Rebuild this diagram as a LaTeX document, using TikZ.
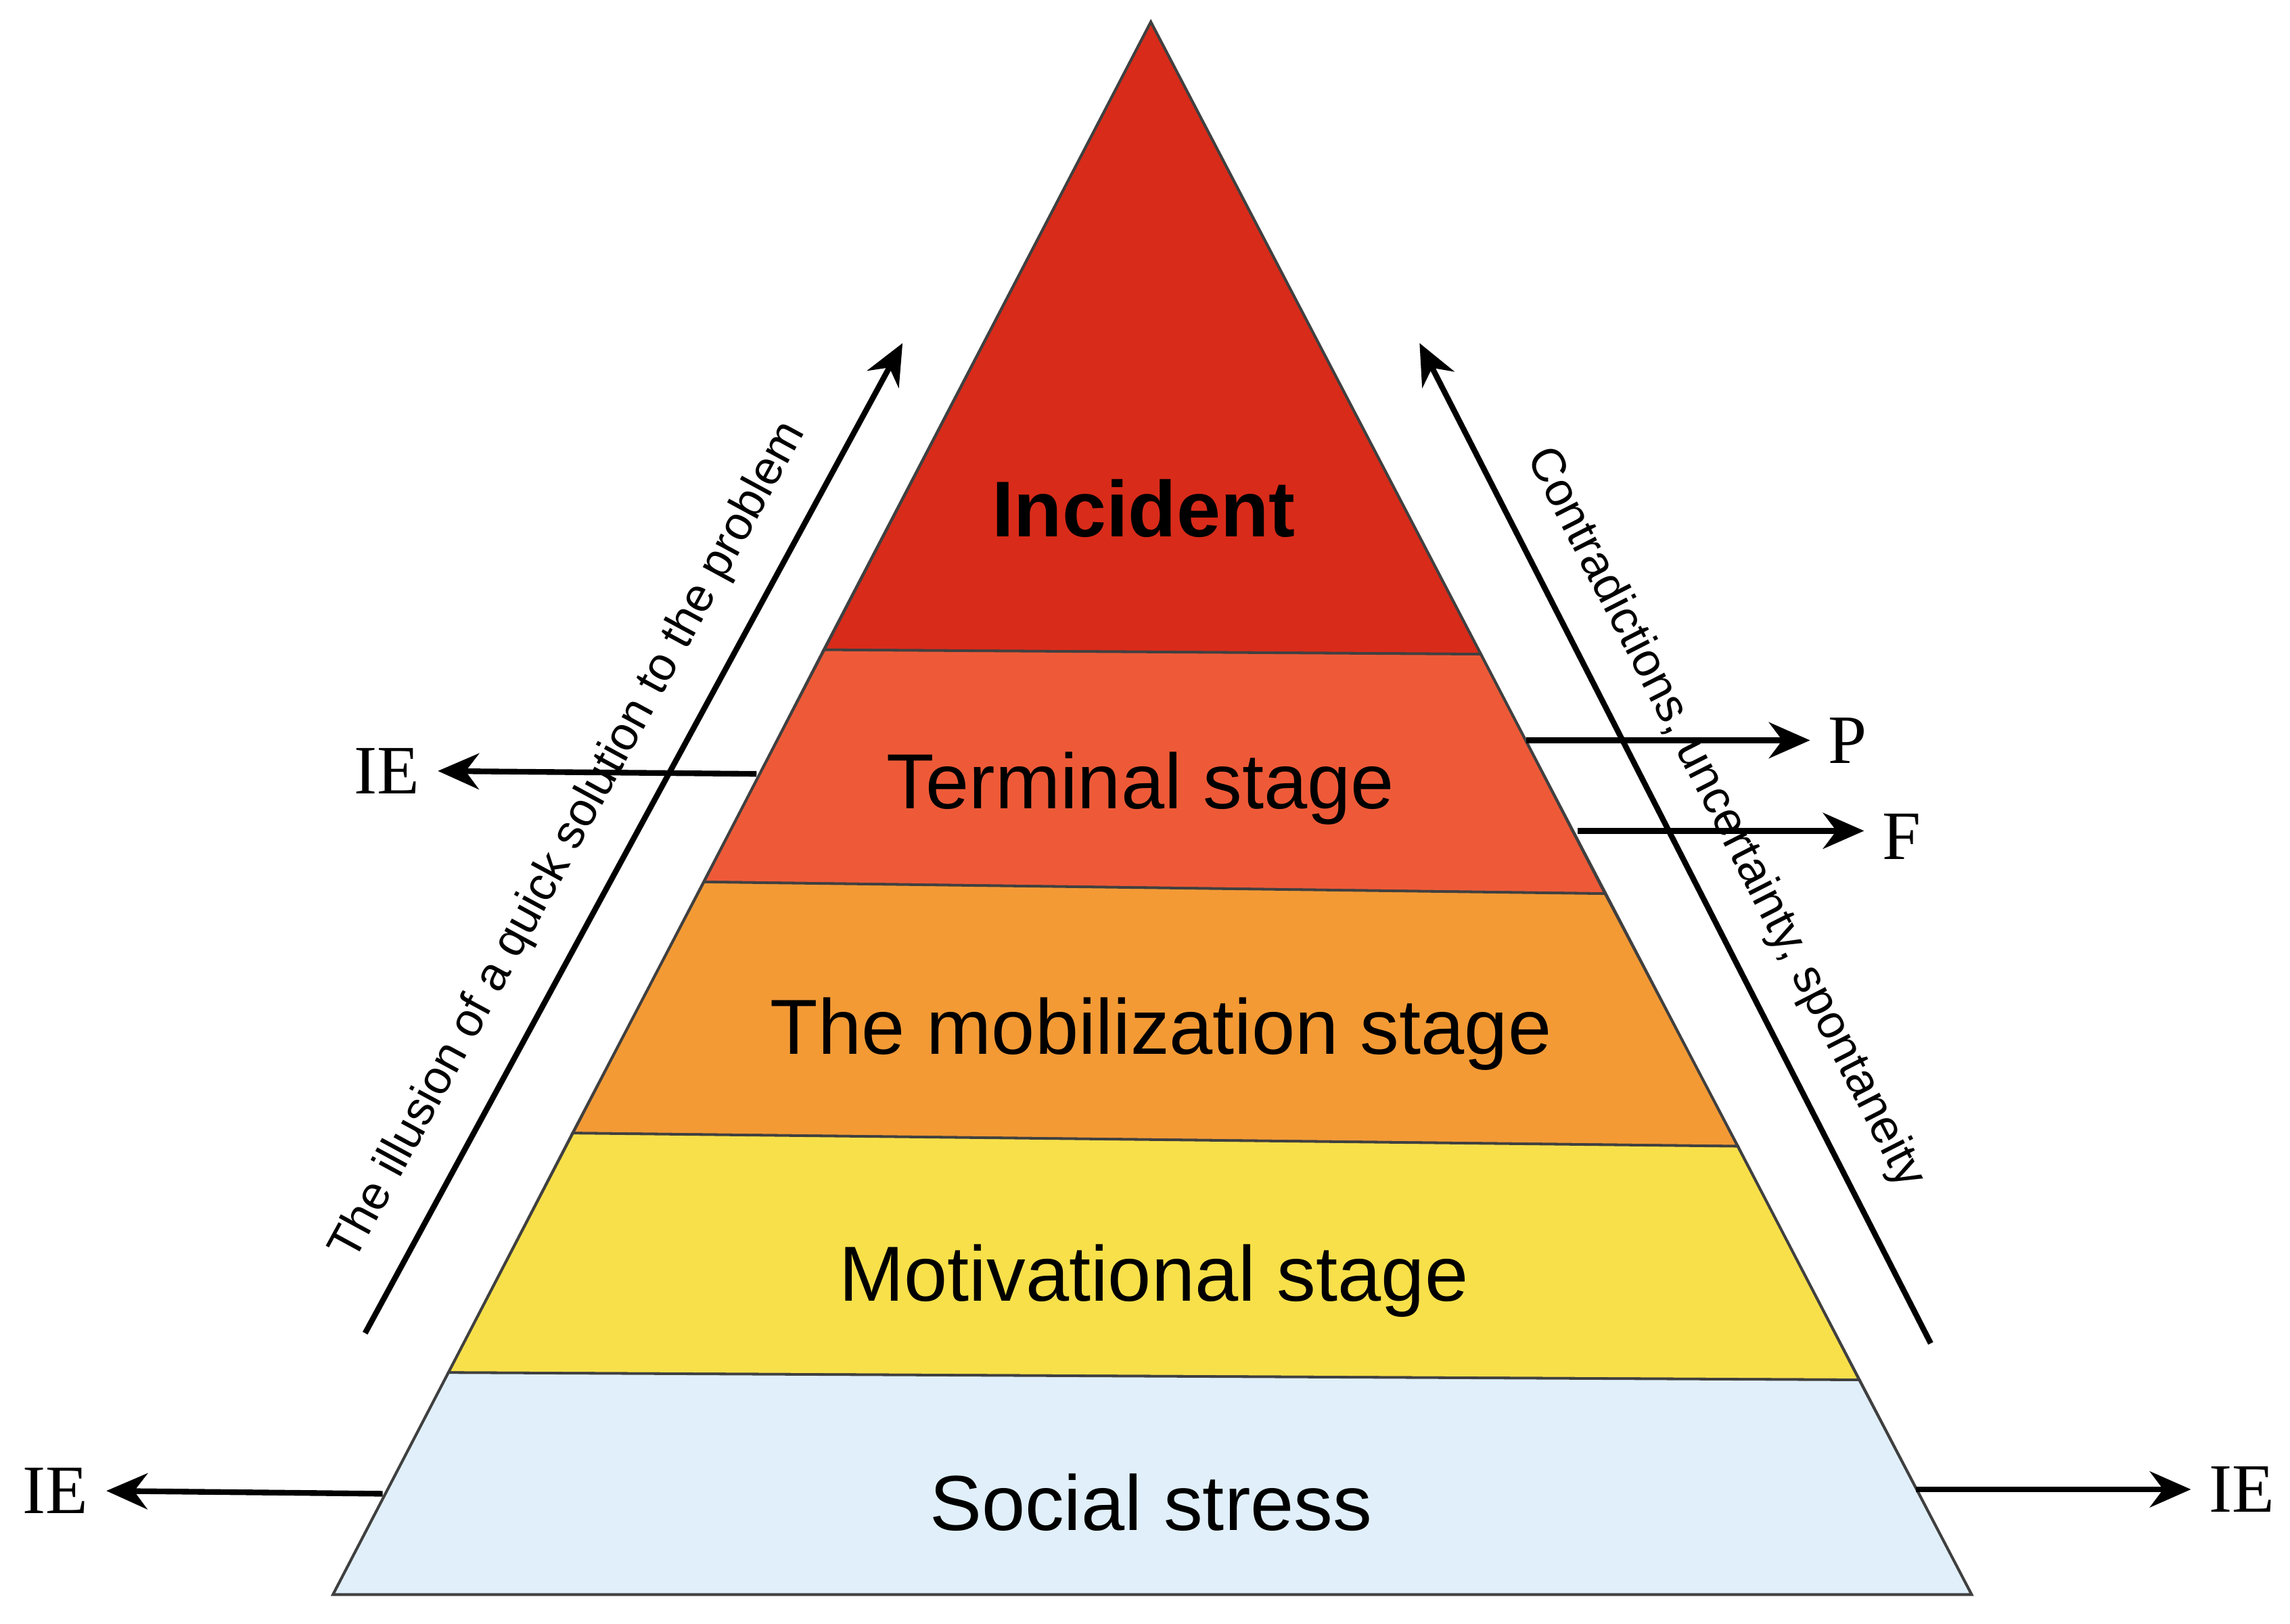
\documentclass[tikz,border=0pt]{standalone}
\usepackage{fontspec}
\setmainfont{Liberation Sans}
\newfontfamily\tnr{Liberation Serif}
\usetikzlibrary{arrows.meta}
\definecolor{cInc}{HTML}{D92B1A}
\definecolor{cTer}{HTML}{EE5A38}
\definecolor{cMob}{HTML}{F39A35}
\definecolor{cMot}{HTML}{F8E04A}
\definecolor{cSoc}{HTML}{E0EFF9}
\begin{document}
\begin{tikzpicture}[x=0.01cm,y=-0.01cm,
  layer/.style={draw=black!75,line width=0.5pt},
  lbl/.style={font=\fontsize{15.2}{17}\selectfont},
  arr/.style={-{Stealth[length=8pt,width=7pt]},line width=1.1pt},
  side/.style={font=\tnr\fontsize{13.5}{15}\selectfont},
  diag/.style={font=\fontsize{9.2}{11}\selectfont}]
\useasboundingbox[fill=white] (0,0) rectangle (1568,1112);
\fill[layer,fill=cInc] (788,15) -- (1014,448) -- (564,445) -- cycle;
\fill[layer,fill=cTer] (564,445) -- (1014,448) -- (1099,612) -- (482,604) -- cycle;
\fill[layer,fill=cMob] (482,604) -- (1099,612) -- (1190,785) -- (392,776) -- cycle;
\fill[layer,fill=cMot] (392,776) -- (1190,785) -- (1273,945) -- (307,940) -- cycle;
\fill[layer,fill=cSoc] (307,940) -- (1273,945) -- (1350,1092) -- (228,1092) -- cycle;
\draw[layer] (788,15) -- (1350,1092) -- (228,1092) -- cycle;
\node[font=\bfseries\fontsize{15.4}{17}\selectfont] (inc) at (783,348) {Incident};
\node[lbl] (ter) at (781,540) {Terminal stage};
\node[lbl] (mob) at (795,708) {The mobilization stage};
\node[lbl] (mot) at (790,877) {Motivational stage};
\node[lbl] (soc) at (788,1029) {Social stress};
% long arrows
\coordinate (la1) at (250,913); \coordinate (la2) at (618,235);
\draw[arr] (la1) -- (la2);
\path (la1) -- (la2) node[pos=0.47,sloped,above=3pt,diag] (lt) {The illusion of a quick solution to the problem};
\coordinate (ra1) at (1322,920); \coordinate (ra2) at (972,235);
\path (ra2) -- (ra1) node[pos=0.5,sloped,above=3pt,diag] (rt) {Contradictions, uncertainty, spontaneity};
\draw[arr] (ra1) -- (ra2);
% side arrows
\node[side] (ie1) at (265,528) {IE};
\coordinate (s1) at (518,530);
\draw[arr] (s1) -- (ie1.east);
\node[side] (p) at (1265,507) {P};
\coordinate (s2) at (1045,507);
\draw[arr] (s2) -- (p.west);
\node[side] (f) at (1302,573) {F};
\coordinate (s3) at (1080,569);
\draw[arr] (s3) -- (f.west|-s3);
\node[side] (ie2) at (38,1021) {IE};
\coordinate (s4) at (262,1023);
\draw[arr] (s4) -- (ie2.east);
\node[side] (ie3) at (1535,1020) {IE};
\coordinate (s5) at (1312,1020);
\draw[arr] (s5) -- (ie3.west);
\end{tikzpicture}
\end{document}
